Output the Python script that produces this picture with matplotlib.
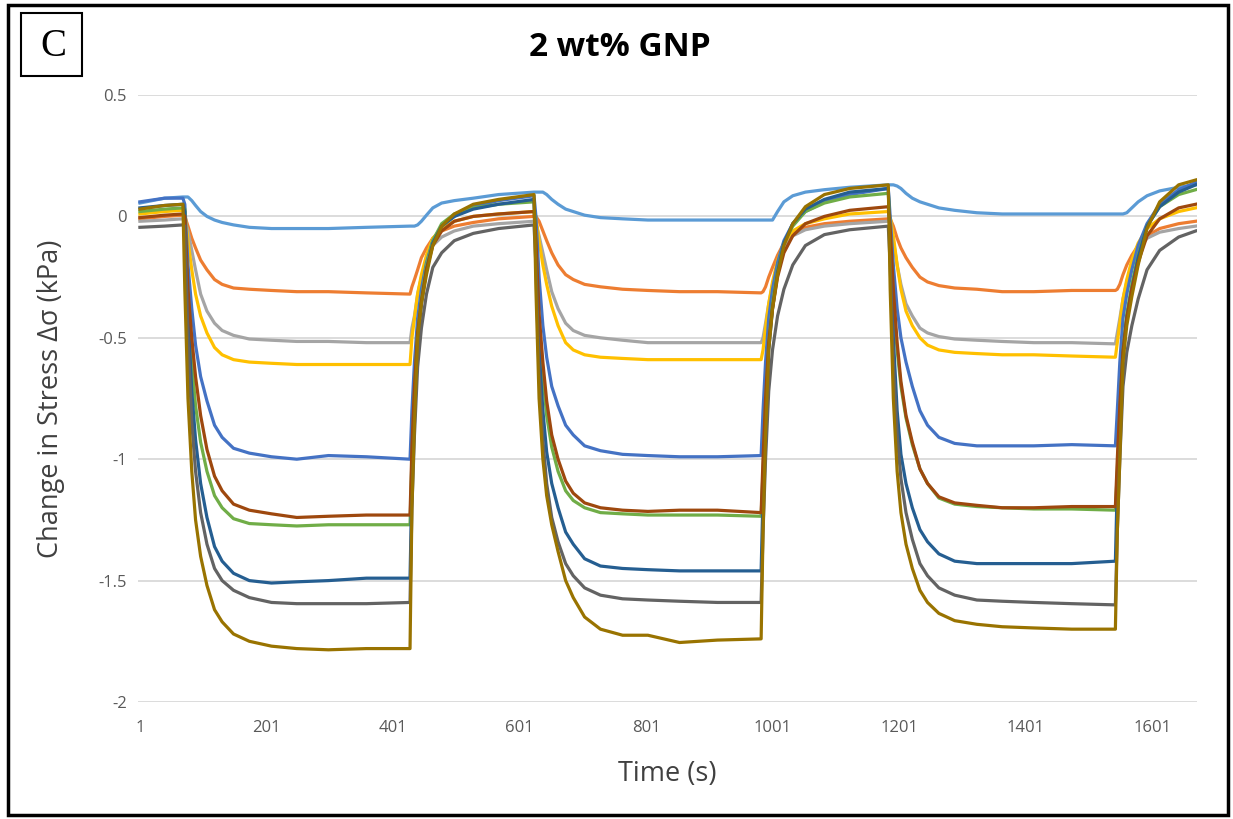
import numpy as np
import matplotlib
matplotlib.use("Agg")
import matplotlib.pyplot as plt
from matplotlib.patches import Rectangle

plt.rcParams['font.family'] = ['Open Sans', 'DejaVu Sans']

# time grid (s), denser around the load / unload steps
time = [1, 40, 69,
        72, 77, 83, 89, 97, 107, 119, 131, 149, 174, 209, 249, 299, 359, 428,
        431, 435, 440, 446, 454, 464, 478, 498, 528, 568, 624,
        627, 632, 638, 644, 652, 662, 674, 686, 704, 729, 764, 804, 854, 914, 983,
        986, 990, 995, 1001, 1009, 1019, 1033, 1053, 1083, 1123, 1184,
        1187, 1192, 1198, 1204, 1212, 1222, 1234, 1246, 1264, 1289, 1324, 1364, 1414, 1474, 1543,
        1546, 1550, 1555, 1561, 1569, 1579, 1593, 1613, 1643, 1670]

# change in stress (kPa) for each of the 10 runs
s1 = [0.055, 0.075, 0.08,
      0.08, 0.08, 0.065, 0.045, 0.02, 0.0, -0.015, -0.025, -0.035, -0.045, -0.05, -0.05, -0.05, -0.045, -0.04,
      -0.04, -0.04, -0.035, -0.02, 0.005, 0.035, 0.055, 0.065, 0.075, 0.09, 0.10,
      0.10, 0.10, 0.10, 0.09, 0.07, 0.05, 0.03, 0.02, 0.005, -0.005, -0.01, -0.015, -0.015, -0.015, -0.015,
      -0.015, -0.015, -0.015, -0.015, 0.02, 0.06, 0.085, 0.10, 0.11, 0.12, 0.13,
      0.13, 0.13, 0.125, 0.115, 0.095, 0.075, 0.06, 0.05, 0.035, 0.025, 0.015, 0.01, 0.01, 0.01, 0.01,
      0.01, 0.01, 0.01, 0.015, 0.035, 0.06, 0.085, 0.105, 0.12, 0.13]
s2 = [-0.01, 0.0, 0.005,
      0.0, -0.04, -0.09, -0.13, -0.18, -0.22, -0.26, -0.28, -0.295, -0.30, -0.305, -0.31, -0.31, -0.315, -0.32,
      -0.29, -0.26, -0.22, -0.17, -0.13, -0.09, -0.06, -0.04, -0.025, -0.01, 0.0,
      0.0, -0.02, -0.06, -0.10, -0.15, -0.20, -0.24, -0.26, -0.28, -0.29, -0.30, -0.305, -0.31, -0.31, -0.315,
      -0.31, -0.29, -0.25, -0.21, -0.16, -0.11, -0.07, -0.045, -0.03, -0.02, -0.01,
      -0.01, -0.04, -0.09, -0.13, -0.17, -0.21, -0.25, -0.27, -0.285, -0.295, -0.30, -0.31, -0.31, -0.305, -0.305,
      -0.30, -0.28, -0.24, -0.20, -0.16, -0.12, -0.08, -0.05, -0.03, -0.02]
s3 = [-0.02, -0.015, -0.01,
      -0.02, -0.06, -0.14, -0.22, -0.32, -0.39, -0.44, -0.47, -0.49, -0.505, -0.51, -0.515, -0.515, -0.52, -0.52,
      -0.46, -0.41, -0.32, -0.25, -0.18, -0.12, -0.085, -0.06, -0.04, -0.03, -0.02,
      -0.03, -0.08, -0.15, -0.22, -0.31, -0.38, -0.44, -0.47, -0.49, -0.50, -0.51, -0.52, -0.52, -0.52, -0.52,
      -0.50, -0.44, -0.36, -0.28, -0.20, -0.13, -0.08, -0.055, -0.04, -0.03, -0.02,
      -0.03, -0.10, -0.20, -0.28, -0.36, -0.41, -0.46, -0.48, -0.495, -0.505, -0.51, -0.515, -0.52, -0.52, -0.525,
      -0.48, -0.42, -0.34, -0.27, -0.20, -0.14, -0.09, -0.065, -0.05, -0.04]
s4 = [0.01, 0.02, 0.025,
      0.02, -0.10, -0.22, -0.32, -0.41, -0.48, -0.54, -0.57, -0.59, -0.60, -0.605, -0.61, -0.61, -0.61, -0.61,
      -0.50, -0.42, -0.32, -0.24, -0.16, -0.09, -0.05, -0.02, 0.0, 0.01, 0.02,
      0.0, -0.10, -0.20, -0.28, -0.37, -0.45, -0.52, -0.55, -0.57, -0.58, -0.585, -0.59, -0.59, -0.59, -0.59,
      -0.55, -0.46, -0.36, -0.27, -0.18, -0.11, -0.06, -0.03, -0.01, 0.01, 0.02,
      0.0, -0.08, -0.20, -0.30, -0.39, -0.45, -0.50, -0.53, -0.55, -0.56, -0.565, -0.57, -0.57, -0.575, -0.58,
      -0.52, -0.44, -0.34, -0.26, -0.18, -0.11, -0.05, -0.01, 0.02, 0.035]
s5 = [0.06, 0.075, 0.075,
      0.05, -0.20, -0.38, -0.53, -0.66, -0.76, -0.86, -0.91, -0.955, -0.975, -0.99, -1.0, -0.985, -0.99, -1.0,
      -0.80, -0.60, -0.42, -0.30, -0.19, -0.10, -0.04, 0.0, 0.04, 0.065, 0.085,
      0.0, -0.25, -0.45, -0.58, -0.70, -0.78, -0.86, -0.90, -0.945, -0.965, -0.98, -0.985, -0.99, -0.99, -0.985,
      -0.80, -0.60, -0.42, -0.30, -0.19, -0.10, -0.03, 0.02, 0.06, 0.09, 0.115,
      0.0, -0.20, -0.38, -0.50, -0.60, -0.70, -0.80, -0.86, -0.91, -0.935, -0.945, -0.945, -0.945, -0.94, -0.945,
      -0.80, -0.60, -0.42, -0.32, -0.22, -0.12, -0.03, 0.05, 0.11, 0.14]
s6 = [0.02, 0.03, 0.035,
      0.03, -0.35, -0.60, -0.78, -0.93, -1.05, -1.15, -1.20, -1.245, -1.265, -1.27, -1.275, -1.27, -1.27, -1.27,
      -1.0, -0.72, -0.48, -0.34, -0.20, -0.10, -0.03, 0.01, 0.035, 0.05, 0.06,
      -0.10, -0.45, -0.66, -0.82, -0.95, -1.05, -1.13, -1.17, -1.20, -1.22, -1.225, -1.23, -1.23, -1.23, -1.235,
      -1.05, -0.78, -0.52, -0.36, -0.22, -0.11, -0.04, 0.02, 0.055, 0.08, 0.095,
      -0.05, -0.35, -0.55, -0.70, -0.83, -0.94, -1.04, -1.10, -1.16, -1.185, -1.195, -1.20, -1.205, -1.205, -1.21,
      -1.05, -0.80, -0.55, -0.40, -0.28, -0.16, -0.04, 0.04, 0.09, 0.11]
s7 = [0.035, 0.045, 0.05,
      0.02, -0.40, -0.72, -0.92, -1.10, -1.24, -1.36, -1.42, -1.47, -1.50, -1.51, -1.505, -1.50, -1.49, -1.49,
      -1.10, -0.80, -0.52, -0.36, -0.22, -0.11, -0.04, 0.0, 0.03, 0.05, 0.07,
      -0.15, -0.55, -0.80, -0.97, -1.10, -1.20, -1.30, -1.35, -1.41, -1.44, -1.45, -1.455, -1.46, -1.46, -1.46,
      -1.15, -0.85, -0.55, -0.38, -0.23, -0.11, -0.03, 0.03, 0.07, 0.10, 0.115,
      -0.10, -0.50, -0.80, -0.98, -1.10, -1.20, -1.29, -1.34, -1.39, -1.42, -1.43, -1.43, -1.43, -1.43, -1.42,
      -1.10, -0.82, -0.56, -0.42, -0.30, -0.17, -0.04, 0.04, 0.10, 0.13]
s8 = [-0.005, 0.005, 0.01,
      0.0, -0.30, -0.50, -0.66, -0.82, -0.96, -1.07, -1.13, -1.185, -1.21, -1.225, -1.24, -1.235, -1.23, -1.23,
      -0.95, -0.70, -0.48, -0.35, -0.22, -0.12, -0.06, -0.02, 0.0, 0.01, 0.02,
      -0.10, -0.40, -0.60, -0.76, -0.90, -1.0, -1.09, -1.14, -1.18, -1.20, -1.21, -1.215, -1.21, -1.21, -1.22,
      -1.0, -0.75, -0.52, -0.38, -0.25, -0.15, -0.08, -0.03, 0.0, 0.025, 0.04,
      -0.05, -0.30, -0.52, -0.68, -0.82, -0.93, -1.04, -1.10, -1.155, -1.18, -1.19, -1.20, -1.20, -1.195, -1.195,
      -1.0, -0.78, -0.56, -0.42, -0.30, -0.19, -0.08, -0.01, 0.035, 0.05]
s9 = [-0.045, -0.04, -0.035,
      -0.04, -0.50, -0.85, -1.05, -1.22, -1.35, -1.45, -1.50, -1.54, -1.57, -1.59, -1.595, -1.595, -1.595, -1.59,
      -1.20, -0.90, -0.62, -0.46, -0.32, -0.21, -0.15, -0.10, -0.07, -0.05, -0.035,
      -0.20, -0.65, -0.92, -1.10, -1.24, -1.34, -1.43, -1.48, -1.53, -1.56, -1.575, -1.58, -1.585, -1.59, -1.59,
      -1.30, -1.0, -0.72, -0.55, -0.41, -0.30, -0.20, -0.12, -0.075, -0.055, -0.04,
      -0.20, -0.60, -0.90, -1.08, -1.22, -1.33, -1.43, -1.48, -1.53, -1.56, -1.58, -1.585, -1.59, -1.595, -1.60,
      -1.30, -1.0, -0.70, -0.56, -0.45, -0.34, -0.22, -0.14, -0.085, -0.06]
s10 = [0.03, 0.045, 0.05,
       -0.30, -0.75, -1.05, -1.25, -1.40, -1.52, -1.62, -1.67, -1.72, -1.75, -1.77, -1.78, -1.785, -1.78, -1.78,
       -1.20, -0.85, -0.50, -0.36, -0.24, -0.12, -0.04, 0.01, 0.05, 0.07, 0.09,
       -0.30, -0.75, -1.0, -1.15, -1.27, -1.38, -1.50, -1.57, -1.65, -1.70, -1.725, -1.725, -1.755, -1.745, -1.74,
       -1.30, -0.90, -0.55, -0.38, -0.24, -0.12, -0.03, 0.04, 0.09, 0.115, 0.13,
       -0.30, -0.75, -1.05, -1.22, -1.35, -1.45, -1.54, -1.59, -1.635, -1.665, -1.68, -1.69, -1.695, -1.70, -1.70,
       -1.30, -1.0, -0.60, -0.45, -0.33, -0.20, -0.05, 0.06, 0.13, 0.15]

series = [s1, s2, s3, s4, s5, s6, s7, s8, s9, s10]
colors = ['#5B9BD5', '#ED7D31', '#A5A5A5', '#FFC000', '#4472C4',
          '#70AD47', '#255E91', '#9E480E', '#636363', '#997300']

xticks = [1, 201, 401, 601, 801, 1001, 1201, 1401, 1601]
yticks = [0.5, 0, -0.5, -1, -1.5, -2]
ylabels = ['0.5', '0', '-0.5', '-1', '-1.5', '-2']

W, H = 1233, 819
fig = plt.figure(figsize=(W/100, H/100), dpi=100)
ax = fig.add_axes([138/W, 1-702/H, (1197-138)/W, (702-95)/H])

for s, c in zip(series, colors):
    ax.plot(time, s, color=c, linewidth=2.3, solid_joinstyle='round')

ax.set_xlim(-2, 1672)
ax.set_ylim(-2, 0.5)
ax.set_xticks(xticks)
ax.set_xticklabels([str(x) for x in xticks])
ax.set_yticks(yticks)
ax.set_yticklabels(ylabels)
ax.tick_params(axis='both', length=0, labelsize=12, colors='#595959')
ax.tick_params(axis='x', pad=13)
ax.tick_params(axis='y', pad=8)
ax.yaxis.grid(True, color='#D9D9D9', linewidth=1.3)
ax.set_axisbelow(True)
for sp in ax.spines.values():
    sp.set_visible(False)

ax.set_xlabel('Time (s)', fontsize=19.5, color='#404040', labelpad=17)
ax.set_ylabel('Change in Stress Δσ (kPa)', fontsize=19.5, color='#404040', labelpad=24)

fig.text(620/W, 1-48/H, '2 wt% GNP', fontsize=24, fontweight='bold',
         ha='center', va='center', color='black')

# panel letter in a box
fig.patches.append(Rectangle((21/W, 1-76/H), 61/W, 63/H, transform=fig.transFigure,
                             fill=False, edgecolor='black', linewidth=1.5))
fig.text(53/W, 1-46/H, 'C', fontsize=28, family='Liberation Serif',
         ha='center', va='center', color='black')

# outer frame
fig.patches.append(Rectangle((8/W, 4/H), 1220/W, 810/H, transform=fig.transFigure,
                             fill=False, edgecolor='black', linewidth=2.5))

fig.savefig('out.png', dpi=100)
